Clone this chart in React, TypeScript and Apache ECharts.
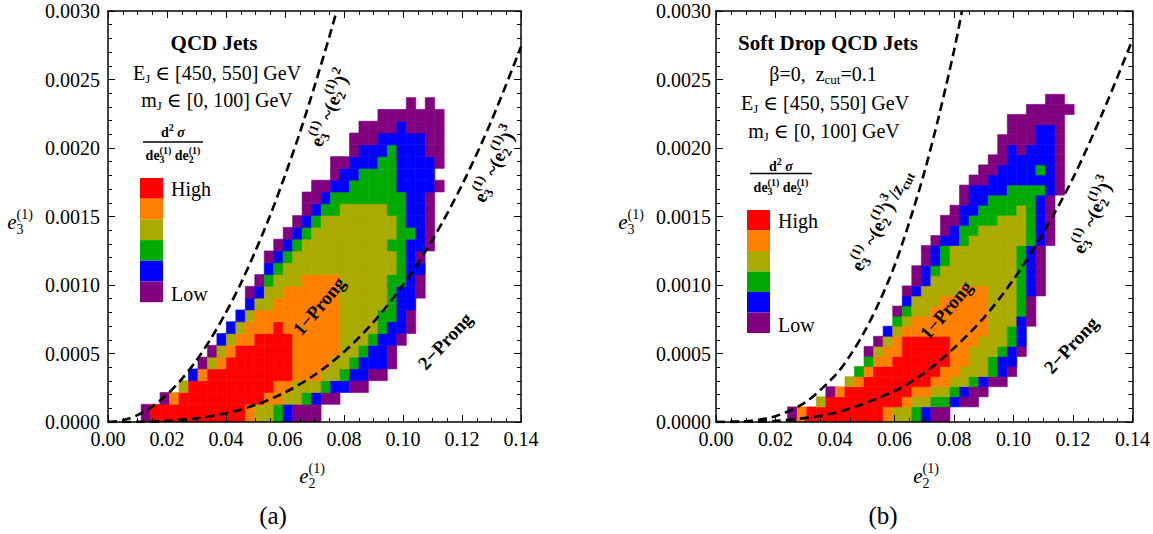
import React, { useEffect, useRef } from "react";
import * as echarts from "echarts";

// ---------------- data ----------------
const X_TICKS = [0, 0.02, 0.04, 0.06, 0.08, 0.1, 0.12, 0.14];
const Y_TICKS = [0, 0.0005, 0.001, 0.0015, 0.002, 0.0025, 0.003];

const LEVEL_CODES = ["P", "B", "G", "Y", "O", "R"];
const LEVEL_COLORS = ["#800080", "#0000ff", "#00aa00", "#aaaa00", "#ff8000", "#ff0000"];
const LEGEND_ORDER = ["R", "O", "Y", "G", "B", "P"];
const LEGEND_TEXT = ["High", "Low"];

const E2_BIN = 0.00321;
const LEFT_E3_BIN = 0.0000861;
const RIGHT_E3_BIN = 0.0000736;

// rows from e3 bin 0 upward: [first e2 bin index, level codes]
const leftRows: [number, string][] = [
  [4, "PRRRRRRRRRROYYGBPPP"],
  [4, "PRRRRRRRRRROYYGBPPP"],
  [6, "PORRRRRRRRROOYYGBPP"],
  [8, "YRRRRRRRRROOYYYGBBPP"],
  [9, "BORRRRRRRRROOOYYGBBPP"],
  [10, "PYORRRRRRROOOOYYGBBBP"],
  [11, "PYORRRRRROOOOOYYGBBP"],
  [12, "BYOORRRROOOOOYYYGBBP"],
  [13, "BYOOOROOOOOOYYYYGBBP"],
  [14, "BYOOOOOOOOOYYYYGGBP"],
  [15, "BYYOOOOOOOYYYYYGBB"],
  [15, "PBYYOOOOOOYYYYYGBBP"],
  [16, "PGYYYOOOOYYYYYGGBP"],
  [17, "BGYYYYYYYYYYYYGBB"],
  [17, "PBGYYYYYYYYYYYGBP"],
  [18, "PBGYYYYYYYYYGGBBP"],
  [19, "PBGYYYYYYYYYGGBP"],
  [20, "PBGYYYYYYYYGBBP"],
  [21, "PBGGYYYYYGGBBP"],
  [21, "PPBGGGGGGGGBBP"],
  [22, "PPBBGGGGGBBBBP"],
  [24, "PBBGGGGBBBB"],
  [24, "PPBBBGGBBBBP"],
  [26, "PBBBGBBBPP"],
  [26, "PPPBBBBBPP"],
  [27, "PPPPBPPPP"],
  [29, "PPPPPPP"],
  [32, "P.P"],
];

const rightRows: [number, string][] = [
  [8, "PORRRRRRRROYYGBPP"],
  [8, "PORRRRRRRROYYGBPP"],
  [11, "YRRRRRRRROYYGGBPP"],
  [12, "PORRRRRRROOYYGBPP"],
  [14, "YORRRRRRROOYYGBPP"],
  [15, "GORRRRRRROOYYYGBP"],
  [16, "GOORRRRRROOYYGBB"],
  [16, "PYOORRRRROOYYYGBP"],
  [17, "PYORRRRROOOYYYGB"],
  [18, "BYOOOOOOOOOYYGB"],
  [19, "GYOOOOOOOOYYYBP"],
  [19, "PGYYOOOOOOYYYGP"],
  [20, "BYYYOOOOOYYYGP"],
  [20, "PBYYYYOOOYYYGBP"],
  [21, "PBYYYYYYYYYGBP"],
  [21, "PBGYYYYYYYYGBP"],
  [22, "PBGYYYYYYYGBP"],
  [22, "PBGYYYYYYYGBP"],
  [23, "PBBGYYYYYYGBP"],
  [24, "PBGGYYYYYGBP"],
  [24, "PPBGGGYYYGBP"],
  [25, "PBBGGGGYGBP"],
  [26, "PBBGGGGGBP"],
  [26, "PBBBBGGGGBP"],
  [27, "PPBBBBBBBP"],
  [28, "PPBBBBGBP"],
  [29, "PPBBBBBP"],
  [30, "PBPBBBP"],
  [30, "PPPPBBP"],
  [31, "PPPBBP"],
  [31, "PPPPPP"],
  [33, "PPPPP"],
  [35, "PP"],
];

// dashed reference curves as (e2, e3) points
const leftUpperCurve = [
  [0, 0], [0.005, 0.0000125], [0.01, 0.00005], [0.015, 0.000113], [0.02, 0.0002],
  [0.025, 0.000313], [0.03, 0.00045], [0.035, 0.000613], [0.04, 0.0008], [0.045, 0.00101],
  [0.05, 0.00125], [0.055, 0.00151], [0.06, 0.0018], [0.065, 0.00211], [0.07, 0.00245],
  [0.075, 0.00281], [0.0775, 0.003],
];
const leftLowerCurve = [
  [0, 0], [0.01, 0.000001], [0.02, 0.000008], [0.03, 0.000027], [0.04, 0.000064],
  [0.05, 0.000125], [0.06, 0.000216], [0.07, 0.000343], [0.08, 0.000512], [0.09, 0.000729],
  [0.1, 0.001], [0.11, 0.00133], [0.12, 0.00173], [0.13, 0.0022], [0.14, 0.00274],
];
const rightUpperCurve = [
  [0, 0], [0.01, 0.0000053], [0.02, 0.0000424], [0.03, 0.000143], [0.04, 0.000339],
  [0.045, 0.000483], [0.05, 0.000663], [0.055, 0.000882], [0.06, 0.00114], [0.065, 0.00146],
  [0.07, 0.00182], [0.075, 0.00224], [0.08, 0.00271], [0.0827, 0.003],
];
const rightLowerCurve = [
  [0, 0], [0.02, 0.0000084], [0.04, 0.000067], [0.06, 0.000226], [0.07, 0.000358],
  [0.08, 0.00054], [0.09, 0.00076], [0.1, 0.00104], [0.11, 0.00138], [0.12, 0.00178],
  [0.13, 0.00226], [0.14, 0.00279],
];

// ---------------- helpers ----------------
const SERIF = '"Liberation Serif", "DejaVu Serif", serif';
const font = (size: number, weight = "normal", style = "normal") =>
  `${style} ${weight} ${size}px ${SERIF}`;

let measureCtx: CanvasRenderingContext2D | null = null;
function measure(t: string, f: string): number {
  if (!measureCtx) measureCtx = document.createElement("canvas").getContext("2d");
  if (!measureCtx) return t.length * 8;
  measureCtx.font = f;
  return measureCtx.measureText(t).width;
}

interface Piece { t: string; f: string; dy?: number; stack?: boolean }

function mathGroup(pieces: Piece[], x: number, y: number, rotDeg = 0, align: "center" | "left" = "center") {
  let cx = 0;
  let lastStart = 0;
  let lastW = 0;
  const kids: any[] = [];
  for (const p of pieces) {
    const w = measure(p.t, p.f);
    let px: number;
    if (p.stack) {
      px = lastStart;
      const adv = Math.max(lastW, w);
      cx = lastStart + adv;
      lastW = adv;
    } else {
      px = cx;
      lastStart = cx;
      lastW = w;
      cx += w;
    }
    kids.push({
      type: "text",
      x: px,
      y: p.dy || 0,
      z: 100,
      style: { text: p.t, font: p.f, fill: "#000", textAlign: "left", textVerticalAlign: "middle" },
    });
  }
  const off = align === "center" ? -cx / 2 : 0;
  kids.forEach((k) => (k.x += off));
  return { type: "group", x, y, rotation: (rotDeg * Math.PI) / 180, children: kids, silent: true, z: 100 };
}

function eSym(k: string, size: number, sub: number, weight = "bold", style = "normal"): Piece[] {
  return [
    { t: "e", f: font(size, weight, style) },
    { t: k, f: font(sub, weight), dy: size * 0.3 },
    { t: "(1)", f: font(sub, weight), dy: -size * 0.42, stack: true },
  ];
}

function buildCells(rows: [number, string][], binH: number) {
  const out: number[][] = [];
  rows.forEach(([start, codes], n) => {
    for (let i = 0; i < codes.length; i++) {
      const lvl = LEVEL_CODES.indexOf(codes[i]);
      if (lvl < 0) continue;
      const m = start + i;
      out.push([(m - 0.5) * E2_BIN, (m + 0.5) * E2_BIN, Math.max(0, (n - 0.5) * binH), (n + 0.5) * binH, lvl]);
    }
  });
  return out;
}

function axesFor(gridIndex: number, yLabelMargin: number) {
  const tickStyle = { color: "#000", width: 1 };
  const lineStyle = { color: "#000", width: 1.5 };
  const xCommon = {
    type: "value", gridIndex, z: 5,
    min: X_TICKS[0], max: X_TICKS[X_TICKS.length - 1], interval: X_TICKS[1] - X_TICKS[0],
    splitLine: { show: false },
    axisLine: { show: true, onZero: false, lineStyle },
    axisTick: { show: true, inside: true, length: 7, lineStyle: tickStyle },
    minorTick: { show: true, splitNumber: 4, length: 4, lineStyle: tickStyle },
  };
  const yCommon = {
    type: "value", gridIndex, z: 5,
    min: Y_TICKS[0], max: Y_TICKS[Y_TICKS.length - 1], interval: Y_TICKS[1] - Y_TICKS[0],
    splitLine: { show: false },
    axisLine: { show: true, onZero: false, lineStyle },
    axisTick: { show: true, inside: true, length: 7, lineStyle: tickStyle },
    minorTick: { show: true, splitNumber: 5, length: 4, lineStyle: tickStyle },
  };
  return {
    x: [
      { ...xCommon, position: "bottom", axisLabel: { show: true, margin: 7, color: "#000", fontSize: 20, fontFamily: SERIF, formatter: (v: number) => v.toFixed(2) } },
      { ...xCommon, position: "top", axisLabel: { show: false } },
    ],
    y: [
      { ...yCommon, position: "left", axisLabel: { show: true, margin: yLabelMargin, color: "#000", fontSize: 20, fontFamily: SERIF, formatter: (v: number) => v.toFixed(4) } },
      { ...yCommon, position: "right", axisLabel: { show: false } },
    ],
  };
}

function cellSeries(data: number[][], axisOffset: number) {
  return {
    type: "custom",
    xAxisIndex: axisOffset,
    yAxisIndex: axisOffset,
    clip: true,
    silent: true,
    z: 2,
    encode: { x: [0, 1], y: [2, 3] },
    data,
    renderItem: (_params: any, api: any) => {
      const a = api.coord([api.value(0), api.value(3)]);
      const b = api.coord([api.value(1), api.value(2)]);
      const c = LEVEL_COLORS[api.value(4)];
      return {
        type: "rect",
        shape: { x: a[0], y: a[1], width: b[0] - a[0], height: b[1] - a[1] },
        style: { fill: c, stroke: c, lineWidth: 0.6 },
      };
    },
  };
}

function curveSeries(data: number[][], axisOffset: number) {
  return {
    type: "line",
    xAxisIndex: axisOffset,
    yAxisIndex: axisOffset,
    data,
    smooth: 0.3,
    symbol: "none",
    silent: true,
    z: 4,
    clip: true,
    lineStyle: { color: "#000", width: 2.6, type: [9, 5] },
  };
}

function legendBlock(x: number, yTop: number, boxW: number, boxH: number, textX: number) {
  const els: any[] = LEGEND_ORDER.map((code, i) => ({
    type: "rect",
    z: 100,
    shape: { x, y: yTop + i * boxH, width: boxW, height: boxH },
    style: { fill: LEVEL_COLORS[LEVEL_CODES.indexOf(code)] },
    silent: true,
  }));
  els.push({ type: "text", z: 100, x: textX, y: yTop + boxH * 0.55, silent: true,
    style: { text: LEGEND_TEXT[0], font: font(20), fill: "#000", textAlign: "left", textVerticalAlign: "middle" } });
  els.push({ type: "text", z: 100, x: textX, y: yTop + boxH * 5.6, silent: true,
    style: { text: LEGEND_TEXT[1], font: font(20), fill: "#000", textAlign: "left", textVerticalAlign: "middle" } });
  return els;
}

function fraction(cx: number, numY: number, lineY: number, denY: number, halfW: number) {
  const B14 = font(14, "bold");
  const B10 = font(10, "bold");
  return [
    mathGroup([{ t: "d", f: B14 }, { t: "2", f: B10, dy: -5 }, { t: " σ", f: font(14, "bold", "italic") }], cx, numY),
    { type: "line", z: 100, silent: true, shape: { x1: cx - halfW, y1: lineY, x2: cx + halfW, y2: lineY }, style: { stroke: "#000", lineWidth: 1.4 } },
    mathGroup([
      { t: "de", f: B14 }, { t: "3", f: B10, dy: 4 }, { t: "(1)", f: B10, dy: -5, stack: true },
      { t: " de", f: B14 }, { t: "2", f: B10, dy: 4 }, { t: "(1)", f: B10, dy: -5, stack: true },
    ], cx, denY),
  ];
}

function buildOption() {
  const L = axesFor(0, 8);
  const R = axesFor(1, 5);
  const R20 = font(20);
  const B19 = font(19, "bold");
  const B13 = font(13, "bold");

  const curveLabel = (power: string, extra: Piece[] = []): Piece[] => [
    ...eSym("3", 19, 13),
    { t: " ~(", f: B19 },
    ...eSym("2", 19, 13),
    { t: ")", f: B19 },
    { t: power, f: B13, dy: -8 },
    ...extra,
  ];

  const axisName = (k: string, x: number, y: number) =>
    mathGroup([
      { t: "e", f: font(21, "normal", "italic") },
      { t: k, f: font(14), dy: 7 },
      { t: "(1)", f: font(14), dy: -8, stack: true },
    ], x, y);

  const graphic: any[] = [
    // left panel texts
    { type: "text", z: 100, x: 214, y: 43, silent: true, style: { text: "QCD Jets", font: font(21, "bold"), fill: "#000", textAlign: "center", textVerticalAlign: "middle" } },
    mathGroup([{ t: "E", f: R20 }, { t: "J", f: font(13), dy: 5 }, { t: " ∈ [450, 550] GeV", f: R20 }], 217, 73),
    mathGroup([{ t: "m", f: R20 }, { t: "J", f: font(13), dy: 5 }, { t: " ∈ [0, 100] GeV", f: R20 }], 217, 100),
    ...fraction(173, 132, 142, 155, 30),
    ...legendBlock(140, 178, 23, 20.7, 171),
    mathGroup(curveLabel("2"), 330, 108, 69),
    mathGroup(curveLabel("3"), 495, 164, 66),
    mathGroup([{ t: "1−Prong", f: B19 }], 319, 306, 50),
    mathGroup([{ t: "2−Prong", f: B19 }], 445, 341, 47),
    axisName("2", 312, 476),
    axisName("3", 20, 222),
    { type: "text", z: 100, x: 273, y: 515, silent: true, style: { text: "(a)", font: font(25), fill: "#000", textAlign: "center", textVerticalAlign: "middle" } },

    // right panel texts
    { type: "text", z: 100, x: 828, y: 43, silent: true, style: { text: "Soft Drop QCD Jets", font: font(21, "bold"), fill: "#000", textAlign: "center", textVerticalAlign: "middle" } },
    mathGroup([{ t: "β=0,  z", f: R20 }, { t: "cut", f: font(13), dy: 5 }, { t: "=0.1", f: R20 }], 823, 74),
    mathGroup([{ t: "E", f: R20 }, { t: "J", f: font(13), dy: 5 }, { t: " ∈ [450, 550] GeV", f: R20 }], 825, 103),
    mathGroup([{ t: "m", f: R20 }, { t: "J", f: font(13), dy: 5 }, { t: " ∈ [0, 100] GeV", f: R20 }], 824, 131),
    ...fraction(781, 166, 173.5, 187, 31),
    ...legendBlock(747, 210, 23, 20.5, 778),
    mathGroup(curveLabel("3", [{ t: "/", f: B19 }, { t: "z", f: font(19, "bold", "italic") }, { t: "cut", f: B13, dy: 6 }]), 881, 220, 63),
    mathGroup(curveLabel("3"), 1093, 215, 68),
    mathGroup([{ t: "1−Prong", f: B19 }], 946, 310, 50),
    mathGroup([{ t: "2−Prong", f: B19 }], 1071, 345, 47),
    axisName("2", 926, 476),
    axisName("3", 631, 222),
    { type: "text", z: 100, x: 883, y: 515, silent: true, style: { text: "(b)", font: font(25), fill: "#000", textAlign: "center", textVerticalAlign: "middle" } },
  ];

  return {
    animation: false,
    backgroundColor: "#ffffff",
    textStyle: { fontFamily: SERIF },
    grid: [
      { left: 108, top: 11, width: 413, height: 411 },
      { left: 716, top: 11, width: 422, height: 411 },
    ],
    xAxis: [...L.x, ...R.x],
    yAxis: [...L.y, ...R.y],
    series: [
      cellSeries(buildCells(leftRows, LEFT_E3_BIN), 0),
      curveSeries(leftUpperCurve, 0),
      curveSeries(leftLowerCurve, 0),
      cellSeries(buildCells(rightRows, RIGHT_E3_BIN), 2),
      curveSeries(rightUpperCurve, 2),
      curveSeries(rightLowerCurve, 2),
    ],
    graphic,
  };
}

export default function App() {
  const ref = useRef<HTMLDivElement>(null);
  useEffect(() => {
    if (!ref.current) return;
    const chart = echarts.init(ref.current, null, { renderer: "svg" });
    chart.setOption(buildOption() as any);
    return () => chart.dispose();
  }, []);
  return (
    <div
      ref={ref}
      style={{ position: "absolute", left: 0, top: 0, width: 1153, height: 534, background: "#fff" }}
    />
  );
}
